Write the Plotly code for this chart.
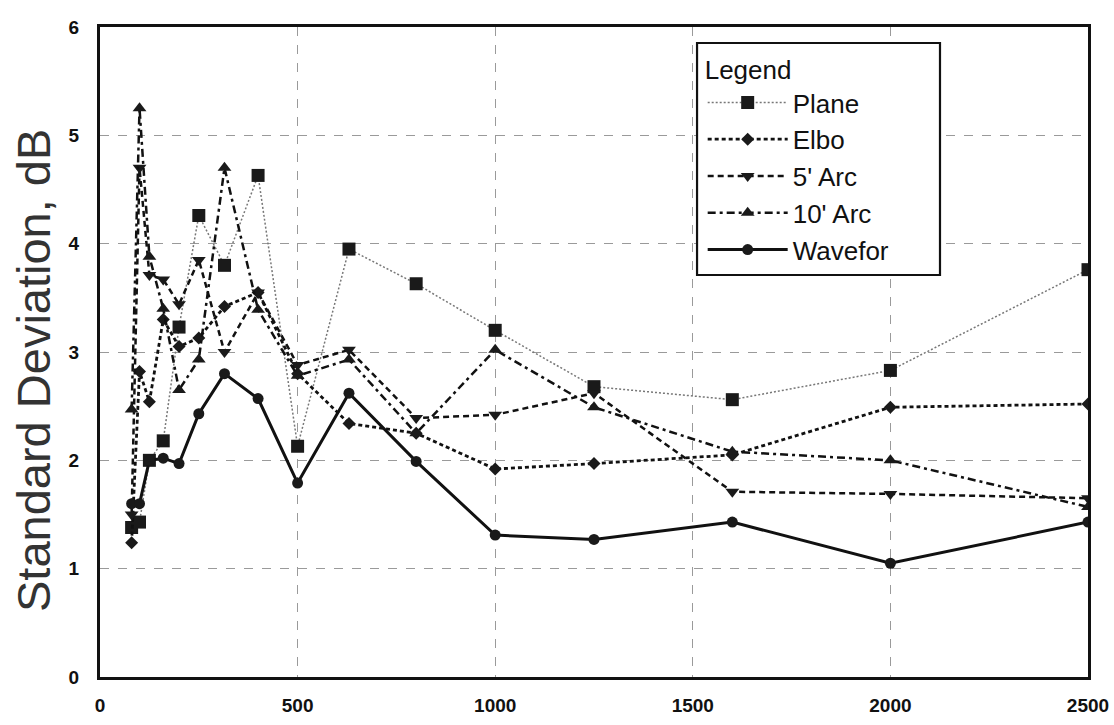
import plotly.graph_objects as go

freq = [80, 100, 125, 160, 200, 250, 315, 400, 500, 630, 800, 1000, 1250, 1600, 2000, 2500]

plane = [1.38, 1.43, 2.0, 2.18, 3.23, 4.26, 3.80, 4.63, 2.13, 3.95, 3.63, 3.20, 2.68, 2.56, 2.83, 3.76]
elbo = [1.24, 2.82, 2.54, 3.30, 3.05, 3.13, 3.42, 3.55, 2.80, 2.34, 2.25, 1.92, 1.97, 2.05, 2.49, 2.52]
arc5 = [1.50, 4.70, 3.71, 3.67, 3.44, 3.85, 3.00, 3.55, 2.88, 3.02, 2.39, 2.42, 2.62, 1.71, 1.69, 1.65]
arc10 = [2.47, 5.25, 3.88, 3.40, 2.65, 2.93, 4.70, 3.39, 2.78, 2.93, 2.25, 3.02, 2.49, 2.08, 2.00, 1.57]
wavefor = [1.60, 1.60, 2.00, 2.02, 1.97, 2.43, 2.80, 2.57, 1.79, 2.62, 1.99, 1.31, 1.27, 1.43, 1.05, 1.43]

names = ["Plane", "Elbo", "5' Arc", "10' Arc", "Wavefor"]
xticks = [0, 500, 1000, 1500, 2000, 2500]
yticks = [0, 1, 2, 3, 4, 5, 6]
y_title = "Standard Deviation, dB"

styles = [
    dict(data=plane, dash="2px,2px", width=1.5, color="#777777", symbol="square", msize=13),
    dict(data=elbo, dash="4px,3px", width=2.8, color="#111111", symbol="diamond", msize=10),
    dict(data=arc5, dash="6px,4px", width=2.5, color="#111111", symbol="triangle-down", msize=12),
    dict(data=arc10, dash="8px,4px,3px,4px", width=2.5, color="#111111", symbol="triangle-up", msize=12),
    dict(data=wavefor, dash="solid", width=3, color="#111111", symbol="circle", msize=11),
]

fig = go.Figure()
for name, s in zip(names, styles):
    fig.add_trace(go.Scatter(
        x=freq, y=s["data"], name=name, mode="lines+markers",
        legendgroup=name,
        line=dict(color=s["color"], width=s["width"], dash=s["dash"]),
        marker=dict(symbol=s["symbol"], size=s["msize"], color="#1a1a1a",
                    line=dict(width=0)),
    ))

fig.update_layout(
    width=1114, height=725,
    margin=dict(l=100, r=26, t=27, b=48, autoexpand=False),
    paper_bgcolor="white", plot_bgcolor="white",
    font=dict(family="Liberation Sans", color="#111111"),
    showlegend=True,
    legend=dict(
        x=0.610, y=0.972, xanchor="left", yanchor="top",
        borderwidth=0, bgcolor="rgba(0,0,0,0)",
        font=dict(size=26, family="Liberation Sans"),
        title=dict(text="Legend", font=dict(size=26, family="Liberation Sans")),
        itemwidth=80, tracegroupgap=0,
    ),
    shapes=[dict(
        type="rect", xref="paper", yref="paper",
        x0=0.6043, x1=0.8502, y0=0.6185, y1=0.9754,
        fillcolor="white", line=dict(color="#111111", width=2.2), layer="above",
    )],
    annotations=[dict(
        text=y_title, textangle=-90, xref="paper", yref="paper",
        x=-0.068, y=0.472, xanchor="center", yanchor="middle", showarrow=False,
        font=dict(size=47, family="Liberation Sans", color="#333333"),
    )],
)
fig.update_xaxes(
    range=[0, 2500], tickvals=xticks, ticktext=[str(v) for v in xticks],
    showline=True, linecolor="#111111", linewidth=3, mirror=True,
    showgrid=True, gridcolor="#9a9a9a", gridwidth=1, griddash="dash",
    ticks="", zeroline=False, automargin=False,
    tickfont=dict(family="Liberation Sans", size=19, weight="bold", color="#111111"),
    ticklabelstandoff=9,
)
fig.update_yaxes(
    range=[0, 6], tickvals=yticks, ticktext=[str(v) for v in yticks],
    showline=True, linecolor="#111111", linewidth=3, mirror=True,
    showgrid=True, gridcolor="#9a9a9a", gridwidth=1, griddash="dash",
    ticks="", zeroline=False, automargin=False,
    tickfont=dict(family="Liberation Sans", size=19, weight="bold", color="#111111"),
    ticklabelstandoff=14,
)

fig.write_html("out.html")
